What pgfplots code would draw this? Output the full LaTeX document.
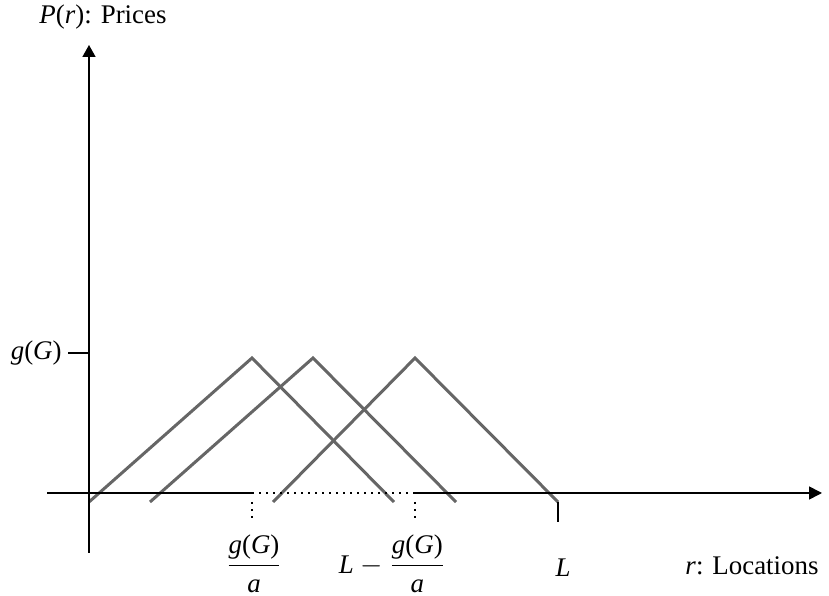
\documentclass[border=0pt]{standalone}
\usepackage{fontspec}
\setmainfont{Liberation Serif}
\usepackage{pgfplots}
\pgfplotsset{compat=1.18}
\usetikzlibrary{arrows.meta}

\definecolor{pricegray}{RGB}{102,102,102}
% g(G)/a as a fraction set in the text font
\newcommand{\gGa}{$\displaystyle\frac{\mbox{\textit{g}(\textit{G})}}{\mbox{\textit{a}}}$}

\begin{document}
\begin{tikzpicture}[every node/.style={inner sep=0pt}]
\begin{axis}[
  scale only axis,
  width=414.5bp, height=298bp,
  xmin=-89, xmax=740,
  ymin=-103, ymax=493,
  axis lines=none,
  clip=false,
  font=\fontsize{13.5}{16}\selectfont,
  guide/.style={black, line width=0.8bp, dash pattern=on 1.2bp off 2.3bp},
]
% frame of the figure (invisible)
\addplot[draw=none] coordinates {(-89,-103) (740,493)};

% price triangles
\addplot[pricegray, line width=1.5bp] coordinates {(0,-9) (163,135) (305,-9)};
\addplot[pricegray, line width=1.5bp] coordinates {(61,-9) (224,135) (367,-9)};
\addplot[pricegray, line width=1.5bp] coordinates {(184,-9) (326,135) (469,-9)};

% vertical axis with arrow
\addplot[black, line width=0.8bp, -{Triangle[length=6bp,width=6.5bp]}] coordinates {(0,-60) (0,448)};
% horizontal axis: solid, dotted middle part, solid with arrow
\addplot[black, line width=0.8bp] coordinates {(-42,0) (163,0)};
\addplot[guide] coordinates {(163,0) (326,0)};
\addplot[black, line width=0.8bp, -{Triangle[length=6.5bp,width=6.5bp]}] coordinates {(326,0) (733,0)};

% ticks and dotted guides
\addplot[black, line width=0.8bp] coordinates {(-21,140) (0,140)};
\addplot[guide] coordinates {(163,-9) (163,-29)};
\addplot[guide] coordinates {(326,-9) (326,-29)};
\addplot[black, line width=0.8bp] coordinates {(469,-9) (469,-29)};

% labels
\node at (axis cs:14,476) {\textit{P}(\textit{r}): Prices};
\node[anchor=east] at (axis cs:-27,140) {\textit{g}(\textit{G})};
\node at (axis cs:165,-71) {\gGa};
\node at (axis cs:303,-71) {\textit{L} $-$ \gGa};
\node at (axis cs:474,-75) {\textit{L}};
\node at (axis cs:663,-73) {\textit{r}: Locations};
\end{axis}
\end{tikzpicture}
\end{document}
